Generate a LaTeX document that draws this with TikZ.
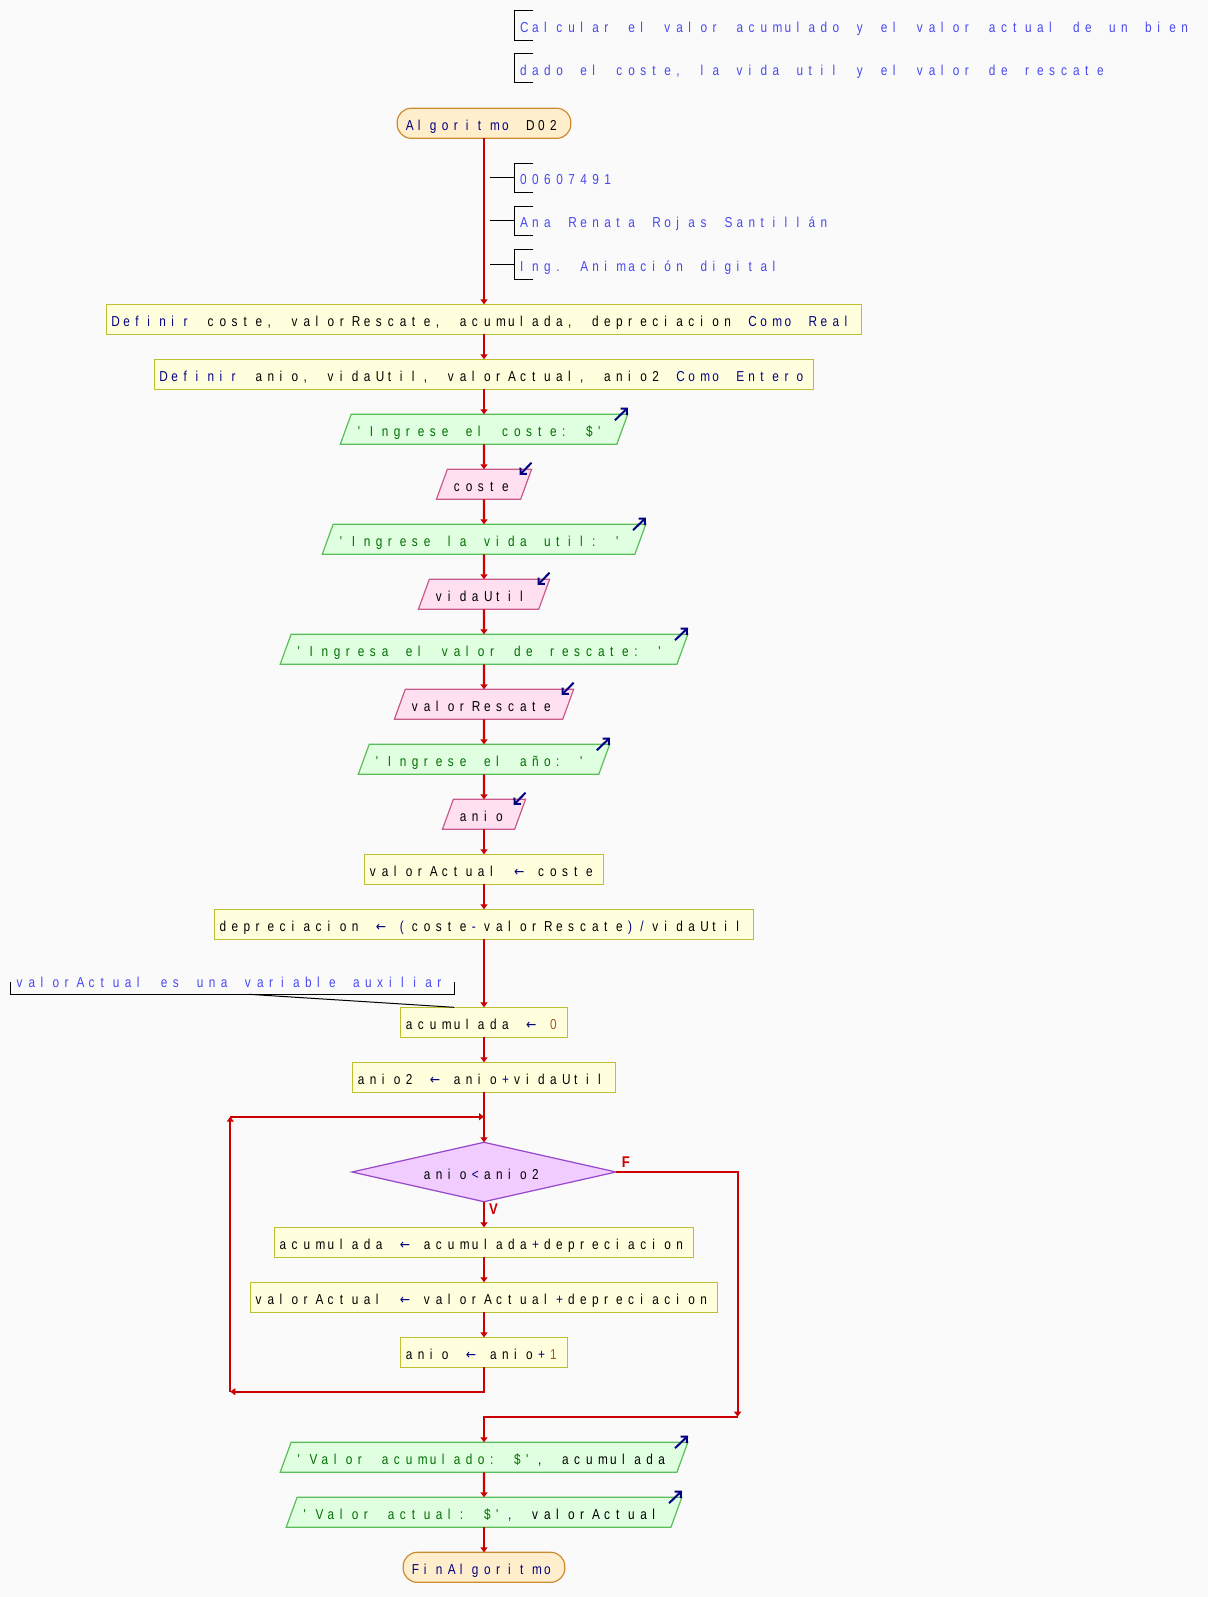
\documentclass[tikz,border=0pt]{standalone}
\usepackage{fontspec}
\usepackage{graphicx}
\usetikzlibrary{shapes.geometric,arrows.meta,calc}

\newfontfamily\flowfont{Liberation Sans}
\newfontfamily\arrowfont{DejaVu Sans}

% fixed-pitch typesetting: every character sits in a cell of equal width
\newlength\monopitch
\setlength\monopitch{12.02pt}
\ExplSyntaxOn
\NewDocumentCommand \mono { m }
  { \str_map_inline:nn {#1} { \makebox[\monopitch][l]{\scalebox{0.82}[1]{##1}} } }
\ExplSyntaxOff
% assignment arrow in one cell
\newcommand\larr{\makebox[\monopitch][l]{\scalebox{0.88}[1]{\arrowfont\fontsize{14pt}{16pt}\selectfont ←}}}

\definecolor{paper}{RGB}{250,250,250}
\definecolor{flowred}{RGB}{204,0,0}
\definecolor{kw}{RGB}{0,0,128}
\definecolor{strg}{RGB}{0,110,0}
\definecolor{num}{RGB}{170,85,40}
\definecolor{cmt}{RGB}{72,72,240}
\definecolor{procfill}{RGB}{255,255,221}
\definecolor{procdraw}{RGB}{190,190,50}
\definecolor{outfill}{RGB}{224,255,224}
\definecolor{outdraw}{RGB}{90,190,90}
\definecolor{infill}{RGB}{255,224,240}
\definecolor{indraw}{RGB}{200,90,140}
\definecolor{decfill}{RGB}{240,204,255}
\definecolor{decdraw}{RGB}{150,70,200}
\definecolor{termfill}{RGB}{255,238,204}
\definecolor{termdraw}{RGB}{204,140,50}

\tikzset{
  txt/.style={font=\flowfont\fontsize{14.4pt}{16pt}\selectfont,
    text height=14pt, text depth=0pt, inner ysep=8pt, outer sep=0pt},
  proc/.style={txt, rectangle, draw=procdraw, fill=procfill, line width=1.2pt, inner xsep=5.1pt},
  outp/.style={txt, trapezium, trapezium left angle=70, trapezium right angle=110,
    draw=outdraw, fill=outfill, line width=1.2pt, inner xsep=6.6pt},
  inp/.style={txt, trapezium, trapezium left angle=70, trapezium right angle=110,
    draw=indraw, fill=infill, line width=1.2pt, inner xsep=6.6pt},
  term/.style={txt, rectangle, rounded corners=14pt, draw=termdraw, fill=termfill,
    line width=1.2pt, inner xsep=8.7pt},
  dec/.style={txt, diamond, aspect=4.44, minimum width=264pt, minimum height=59.4pt,
    inner sep=0pt, draw=decdraw, fill=decfill, line width=1.2pt},
  flow/.style={draw=flowred, line width=2.2pt, -{Triangle[length=5pt,width=7pt]}},
  io/.style={draw=kw, line width=2pt, -{Straight Barb[length=4.5pt,width=9pt]}},
  brk/.style={draw=black, line width=1pt},
  cmnt/.style={font=\flowfont\fontsize{14.4pt}{16pt}\selectfont, text=cmt,
    inner sep=0pt, text height=14pt, text depth=0pt, anchor=west},
  lbl/.style={text=flowred, font=\flowfont\bfseries\fontsize{15.5pt}{17pt}\selectfont, inner sep=0pt},
}

% bracket in front of a comment line
\newcommand\bracketat[1]{%
  \draw[brk] ($(#1.west)+(13,-14.8)$) -- ($(#1.west)+(-5.4,-14.8)$)
    -- ($(#1.west)+(-5.4,14.8)$) -- ($(#1.west)+(13,14.8)$);}
% small arrows marking output and input blocks
\newcommand\outmark[1]{\draw[io] ($(#1.top right corner)+(-12.8,5.9)$) -- ($(#1.top right corner)+(0.2,-6.6)$);}
\newcommand\inmark[1]{\draw[io] ($(#1.top right corner)+(0,-6.6)$) -- ($(#1.top right corner)+(-12,5.7)$);}

\begin{document}
\begin{tikzpicture}[x=1pt,y=-1pt]
\fill[paper] (0,0) rectangle (1208,1597);
\useasboundingbox (0,0) rectangle (1208,1597);

% heading comments
\node[cmnt] (c1) at (520,25.5) {\mono{Calcular el valor acumulado y el valor actual de un bien}};
\node[cmnt] (c2) at (520,68.2) {\mono{dado el coste, la vida util y el valor de rescate}};
\bracketat{c1}
\bracketat{c2}

% flow nodes
\node[term] (start) at (484,123.3) {{\color{kw}\mono{Algoritmo }}\mono{D02}};
\node[proc] (def1) at (484,319.3) {{\color{kw}\mono{Definir }}\mono{coste, valorRescate, acumulada, depreciacion }{\color{kw}\mono{Como Real}}};
\node[proc] (def2) at (484,374.3) {{\color{kw}\mono{Definir }}\mono{anio, vidaUtil, valorActual, anio2 }{\color{kw}\mono{Como Entero}}};
\node[outp] (out1) at (484,429.3) {{\color{strg}\mono{'Ingrese el coste: $'}}};
\node[inp] (in1) at (484,484.3) {\mono{coste}};
\node[outp] (out2) at (484,539.3) {{\color{strg}\mono{'Ingrese la vida util: '}}};
\node[inp] (in2) at (484,594.3) {\mono{vidaUtil}};
\node[outp] (out3) at (484,649.3) {{\color{strg}\mono{'Ingresa el valor de rescate: '}}};
\node[inp] (in3) at (484,704.3) {\mono{valorRescate}};
\node[outp] (out4) at (484,759.3) {{\color{strg}\mono{'Ingrese el año: '}}};
\node[inp] (in4) at (484,814.3) {\mono{anio}};
\node[proc] (a1) at (484,869.3) {\mono{valorActual }{\color{kw}\larr}\mono{ coste}};
\node[proc] (a2) at (484,924.3) {\mono{depreciacion }{\color{kw}\larr\mono{ (}}\mono{coste}{\color{kw}\mono{-}}\mono{valorRescate}{\color{kw}\mono{)/}}\mono{vidaUtil}};
\node[proc] (a3) at (484,1022.3) {\mono{acumulada }{\color{kw}\larr}\mono{ }{\color{num}\mono{0}}};
\node[proc] (a4) at (484,1077.3) {\mono{anio2 }{\color{kw}\larr}\mono{ anio}{\color{kw}\mono{+}}\mono{vidaUtil}};
\node[dec] (dia) at (484,1172) {\mono{anio}{\color{kw}\mono{<}}\mono{anio2}};
\node[proc] (b1) at (484,1242.3) {\mono{acumulada }{\color{kw}\larr}\mono{ acumulada}{\color{kw}\mono{+}}\mono{depreciacion}};
\node[proc] (b2) at (484,1297.3) {\mono{valorActual }{\color{kw}\larr}\mono{ valorActual}{\color{kw}\mono{+}}\mono{depreciacion}};
\node[proc] (b3) at (484,1352.3) {\mono{anio }{\color{kw}\larr}\mono{ anio}{\color{kw}\mono{+}}{\color{num}\mono{1}}};
\node[outp] (out5) at (484,1457.3) {{\color{strg}\mono{'Valor acumulado: $'}}{\color{kw}\mono{,}}\mono{ acumulada}};
\node[outp] (out6) at (484,1512.3) {{\color{strg}\mono{'Valor actual: $'}}{\color{kw}\mono{,}}\mono{ valorActual}};
\node[term] (stop) at (484,1567.3) {{\color{kw}\mono{FinAlgoritmo}}};

% input / output marks
\foreach \n in {out1,out2,out3,out4,out5,out6} {\outmark{\n}}
\foreach \n in {in1,in2,in3,in4} {\inmark{\n}}

% straight connectors
\foreach \a/\b in {start/def1,def1/def2,def2/out1,out1/in1,in1/out2,out2/in2,in2/out3,
  out3/in3,in3/out4,out4/in4,in4/a1,a1/a2,a2/a3,a3/a4,a4/dia,dia/b1,b1/b2,b2/b3,
  out5/out6,out6/stop}
  {\draw[flow] (\a) -- (\b);}

% loop back to the condition
\coordinate (lbot) at (230.3,1391.7);
\coordinate (ltop) at (230.3,1116.7);
\draw[flow] (b3.south) |- (lbot);
\draw[flow] (lbot) -- (ltop);
\draw[flow] (ltop) -- (ltop -| a4.south);

% false branch
\coordinate (fend) at (737.6,1416.7);
\draw[flow] (dia.east) -| (fend);
\draw[flow] (fend) -| (out5.north);
\node[lbl] (flab) at (626,1162) {\scalebox{0.85}[1]{F}};
\node[lbl] (vlab) at (493.5,1209) {\scalebox{0.85}[1]{V}};

% author comments on the first connector
\node[cmnt] (n1) at (520,178) {\mono{00607491}};
\node[cmnt] (n2) at (520,221) {\mono{Ana Renata Rojas Santillán}};
\node[cmnt] (n3) at (520,264.3) {\mono{Ing. Animación digital}};
\bracketat{n1}
\bracketat{n2}
\bracketat{n3}
\coordinate (k1) at (490,178);
\coordinate (k2) at (490,221);
\coordinate (k3) at (490,264.3);
\draw[brk] (k1) -- ($(n1.west)+(-5.4,0)$);
\draw[brk] (k2) -- ($(n2.west)+(-5.4,0)$);
\draw[brk] (k3) -- ($(n3.west)+(-5.4,0)$);

% comment on the accumulator
\node[cmnt] (aux) at (16.4,980) {\mono{valorActual es una variable auxiliar}};
\draw[brk] ($(aux.west)+(-5.5,2.3)$) -- ($(aux.west)+(-5.5,14.3)$)
  -- ($(aux.east)+(4.9,14.3)$) -- ($(aux.east)+(4.9,2.3)$);
\draw[brk] ($(aux.west)+(232.4,14.3)$) -- ($(a3.north west)+(53.3,0)$);
\end{tikzpicture}
\end{document}
